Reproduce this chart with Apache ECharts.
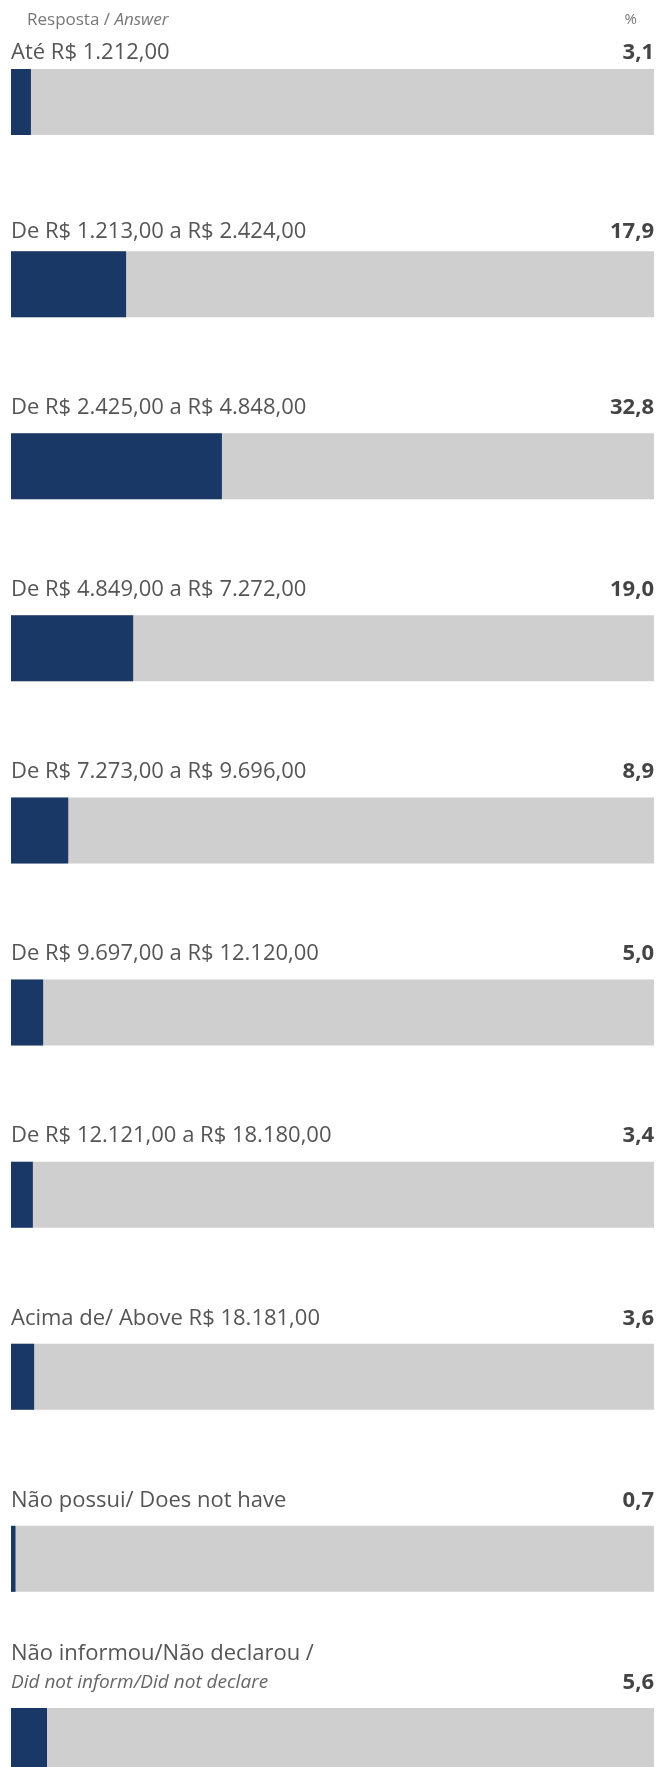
<!DOCTYPE html>
<html>
<head>
<meta charset="utf-8">
<script src="https://cdn.jsdelivr.net/npm/echarts@6/dist/echarts.min.js"></script>
<style>
html,body{margin:0;padding:0;background:#fff;}
#chart{width:672px;height:1767px;}
</style>
</head>
<body>
<div id="chart"></div>
<script>
const categories = [
  'Até R$ 1.212,00',
  'De R$ 1.213,00 a R$ 2.424,00',
  'De R$ 2.425,00 a R$ 4.848,00',
  'De R$ 4.849,00 a R$ 7.272,00',
  'De R$ 7.273,00 a R$ 9.696,00',
  'De R$ 9.697,00 a R$ 12.120,00',
  'De R$ 12.121,00 a R$ 18.180,00',
  'Acima de/ Above R$ 18.181,00',
  'Não possui/ Does not have',
  'Não informou/Não declarou /\nDid not inform/Did not declare'
];
const values = [3.1, 17.9, 32.8, 19.0, 8.9, 5.0, 3.4, 3.6, 0.7, 5.6];
const totals = [100, 100, 100, 100, 100, 100, 100, 100, 100, 100];
const headerLeft = 'Resposta / ';
const headerLeftItalic = 'Answer';
const headerRight = '%';

const FONT = '"Open Sans", "Noto Sans", sans-serif';
const chart = echarts.init(document.getElementById('chart'), null, {renderer: 'canvas'});

function fmtVal(v) { return v.toFixed(1).replace('.', ','); }

// label lift above each bar (first rows sit tighter under the header)
function lift(i) { return i === 0 ? -2 : (i === 1 ? -5 : -11); }

const bgData = totals.map(function (v, i) {
  return {value: v, label: {position: [0, lift(i)]}};
});
const valLabelData = totals.map(function (v, i) {
  return {value: v, label: {position: ['100%', lift(i)]}};
});

chart.setOption({
  animation: false,
  backgroundColor: '#ffffff',
  title: [
    {
      text: '{n|' + headerLeft + '}{i|' + headerLeftItalic + '}',
      left: 22, top: 7,
      textStyle: {
        fontWeight: 'normal',
        rich: {
          n: {fontFamily: FONT, fontSize: 17, fontWeight: 'normal', color: '#777777'},
          i: {fontFamily: FONT, fontSize: 17, fontWeight: 'normal', fontStyle: 'italic', color: '#777777'}
        }
      }
    },
    {
      text: headerRight,
      right: 30, top: 7,
      textStyle: {fontFamily: FONT, fontSize: 15, fontWeight: 'normal', color: '#777777'}
    }
  ],
  grid: {left: 11, top: 11, width: 643, height: 1821, containLabel: false, outerBoundsMode: 'none'},
  xAxis: {type: 'value', min: 0, max: 100, show: false},
  yAxis: {type: 'category', data: categories, inverse: true, show: false},
  series: [
    {
      type: 'bar',
      data: bgData,
      barWidth: 66,
      barGap: '-100%',
      itemStyle: {color: '#d0cfd0'},
      silent: true,
      label: {
        show: true,
        align: 'left',
        verticalAlign: 'bottom',
        formatter: function (p) {
          const parts = categories[p.dataIndex].split('\n');
          let s = '{a|' + parts[0] + '}';
          if (parts.length > 1) s += '\n{i|' + parts[1] + '}';
          return s;
        },
        rich: {
          a: {fontFamily: FONT, fontSize: 22, color: '#555555', lineHeight: 29},
          i: {fontFamily: FONT, fontSize: 19, fontStyle: 'italic', color: '#666666', lineHeight: 29}
        }
      },
      z: 1
    },
    {
      type: 'bar',
      data: values,
      barWidth: 66,
      barGap: '-100%',
      itemStyle: {color: '#1a3866'},
      z: 2
    },
    {
      type: 'bar',
      data: valLabelData,
      barWidth: 66,
      barGap: '-100%',
      itemStyle: {color: 'rgba(0,0,0,0)'},
      silent: true,
      label: {
        show: true,
        align: 'right',
        verticalAlign: 'bottom',
        lineHeight: 29,
        fontFamily: FONT,
        fontSize: 22,
        fontWeight: 'bold',
        color: '#444444',
        formatter: function (p) { return fmtVal(values[p.dataIndex]); }
      },
      z: 3
    }
  ]
});
</script>
</body>
</html>
